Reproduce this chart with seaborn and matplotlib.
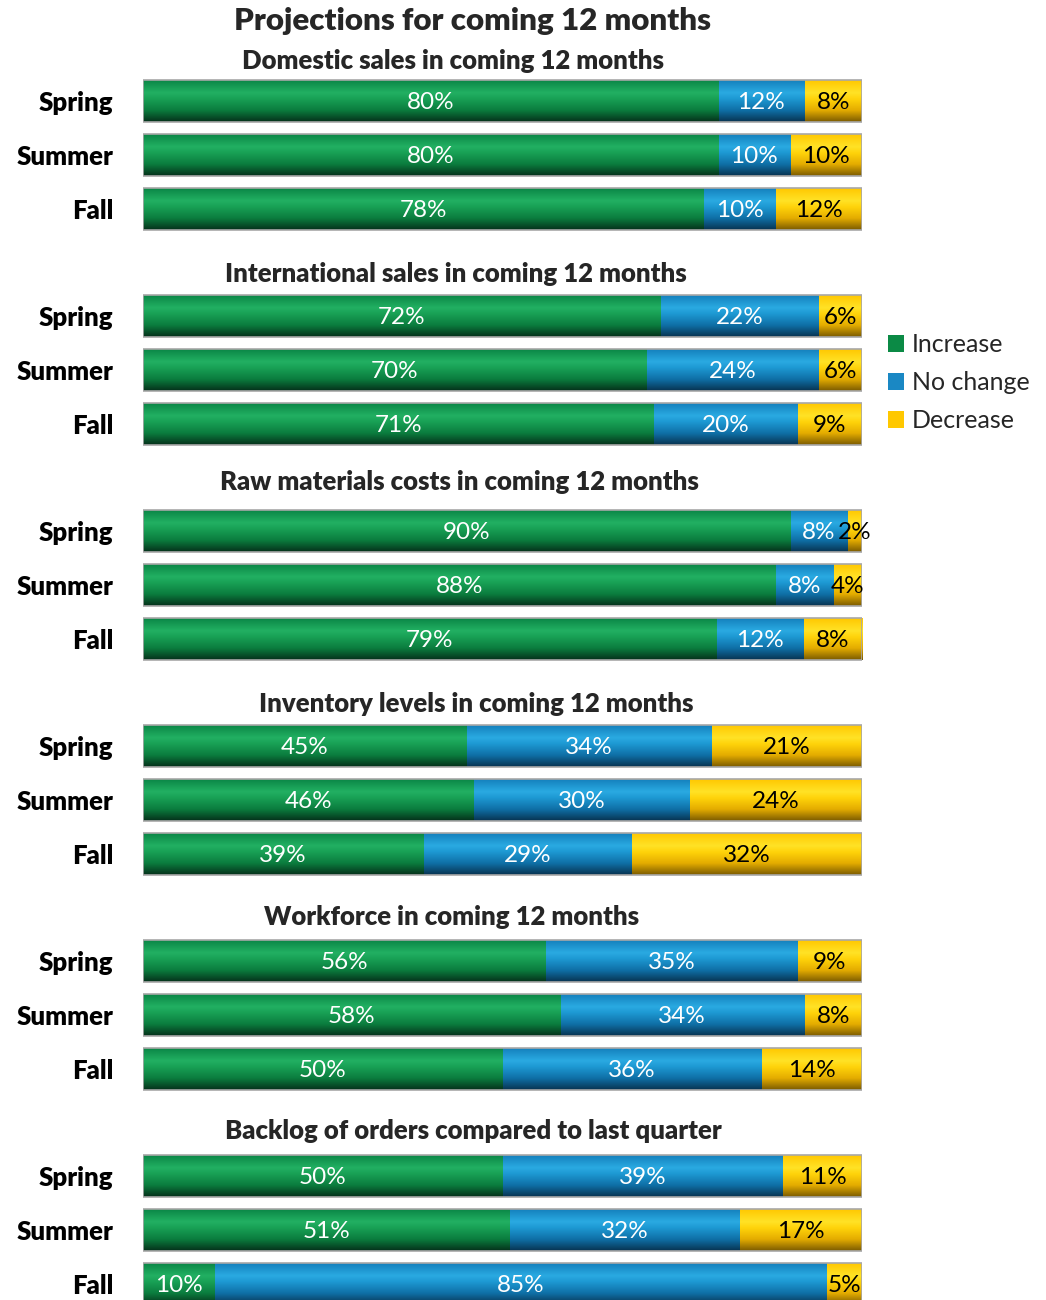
import numpy as np
import pandas as pd
import matplotlib
matplotlib.use("Agg")
import matplotlib.pyplot as plt
from matplotlib.patches import Patch
from matplotlib.colors import to_rgb
import seaborn as sns

sns.set_theme(style="white")
plt.rcParams["font.family"] = ["Lato", "DejaVu Sans"]

seasons = ["Spring", "Summer", "Fall"]
series = ["Increase", "No change", "Decrease"]

panel_titles = [
    "Domestic sales in coming 12 months",
    "International sales in coming 12 months",
    "Raw materials costs in coming 12 months",
    "Inventory levels in coming 12 months",
    "Workforce in coming 12 months",
    "Backlog of orders compared to last quarter",
]

increase = [
    [80, 80, 78],
    [72, 70, 71],
    [90, 88, 79],
    [45, 46, 39],
    [56, 58, 50],
    [50, 51, 10],
]
no_change = [
    [12, 10, 10],
    [22, 24, 20],
    [8, 8, 12],
    [34, 30, 29],
    [35, 34, 36],
    [39, 32, 85],
]
decrease = [
    [8, 10, 12],
    [6, 6, 9],
    [2, 4, 8],
    [21, 24, 32],
    [9, 8, 14],
    [11, 17, 5],
]

base_colors = {"Increase": "#0b8a45", "No change": "#1a88c4", "Decrease": "#ffc800"}
text_colors = {"Increase": "white", "No change": "white", "Decrease": "black"}

# vertical shading stops (fraction from top of bar, colour)
shade_stops = {
    "Increase": [(0.0, "#0a8646"), (0.3, "#22b062"), (0.45, "#18a055"),
                 (0.72, "#0b7c3e"), (1.0, "#05301a")],
    "No change": [(0.0, "#1480bd"), (0.3, "#2aaae2"), (0.45, "#1d98d2"),
                  (0.72, "#0f6fa6"), (1.0, "#083350")],
    "Decrease": [(0.0, "#ffc800"), (0.3, "#ffe226"), (0.45, "#ffd30a"),
                 (0.72, "#e4ac00"), (1.0, "#7a5a00")],
}


def shade_image(name, n=120):
    stops = shade_stops[name]
    pos = np.array([s[0] for s in stops])
    cols = np.array([to_rgb(s[1]) for s in stops])
    t = np.linspace(0, 1, n)
    img = np.stack([np.interp(t, pos, cols[:, c]) for c in range(3)], axis=-1)
    return img[:, None, :]


W, H = 1046, 1300
fig = plt.figure(figsize=(W / 100, H / 100), dpi=100)

x_left, x_right = 143, 862
row_step = 54
bar_px = 42
first_centers = [101, 316, 531, 746, 961, 1176]
title_y = [61, 274, 482, 704, 917, 1131]
title_x = [453, 456, 459, 476, 452, 473]

for p in range(6):
    top_px = first_centers[p] - row_step / 2
    ax = fig.add_axes([x_left / W, 1 - (top_px + 3 * row_step) / H,
                       (x_right - x_left) / W, 3 * row_step / H])
    inc = np.array(increase[p], dtype=float)
    nc = np.array(no_change[p], dtype=float)
    dec = np.array(decrease[p], dtype=float)
    # rounded shares are rescaled so every bar spans the full 100%
    total = inc + nc + dec
    s_inc, s_nc, s_dec = inc / total * 100, nc / total * 100, dec / total * 100
    cum = {"Decrease": s_inc + s_nc + s_dec, "No change": s_inc + s_nc, "Increase": s_inc}
    starts = {"Increase": np.zeros(3), "No change": s_inc, "Decrease": s_inc + s_nc}
    shares = {"Increase": s_inc, "No change": s_nc, "Decrease": s_dec}
    vals = {"Increase": increase[p], "No change": no_change[p], "Decrease": decrease[p]}

    layers = ["Decrease", "No change", "Increase"]
    for name in layers:
        df = pd.DataFrame({"season": seasons, "value": cum[name]})
        sns.barplot(data=df, x="value", y="season", order=seasons, orient="h",
                    color=base_colors[name], saturation=1, width=bar_px / row_step,
                    ax=ax, errorbar=None)

    patches = list(ax.patches)
    for k, patch in enumerate(patches):
        name = layers[k // 3]
        x0, y0 = patch.get_x(), patch.get_y()
        w, h = patch.get_width(), patch.get_height()
        im = ax.imshow(shade_image(name), extent=(x0, x0 + w, y0 + h, y0),
                       origin="upper", aspect="auto", zorder=2 + 0.01 * k,
                       interpolation="bilinear")
        im.set_clip_path(patch)
        patch.set_facecolor("none")
        if name == "Decrease":
            patch.set_edgecolor("#a8a8a8")
            patch.set_linewidth(1.2)
            patch.set_zorder(3)
        else:
            patch.set_edgecolor("none")

    for name in series:
        for i in range(3):
            cx = starts[name][i] + shares[name][i] / 2
            ax.text(cx, i + 0.02, f"{vals[name][i]}%", ha="center", va="center",
                    fontsize=17.5, color=text_colors[name], zorder=5)

    ax.set_xlim(0, 100)
    ax.set_ylim(2.5, -0.5)
    ax.set_xlabel("")
    ax.set_ylabel("")
    ax.set_xticks([])
    for s in ax.spines.values():
        s.set_visible(False)
    ax.tick_params(axis="y", length=0, pad=21.5)
    for lab in ax.get_yticklabels():
        lab.set_fontsize(18.5)
        lab.set_fontweight("heavy")
        lab.set_color("black")

    fig.text(title_x[p] / W, 1 - title_y[p] / H, panel_titles[p], ha="center",
             va="center", fontsize=18.5, fontweight="heavy")

fig.text(473 / W, 1 - 21 / H, "Projections for coming 12 months", ha="center",
         va="center", fontsize=22.5, fontweight="heavy")

handles = [Patch(facecolor=base_colors[s], edgecolor="none", label=s) for s in series]
fig.legend(handles=handles, loc="center left", bbox_to_anchor=(888 / W, 1 - 383 / H),
           frameon=False, fontsize=18, handlelength=0.65, handleheight=0.65,
           handletextpad=0.3, labelspacing=0.6, borderaxespad=0, borderpad=0)

fig.savefig("out.png", dpi=100)
